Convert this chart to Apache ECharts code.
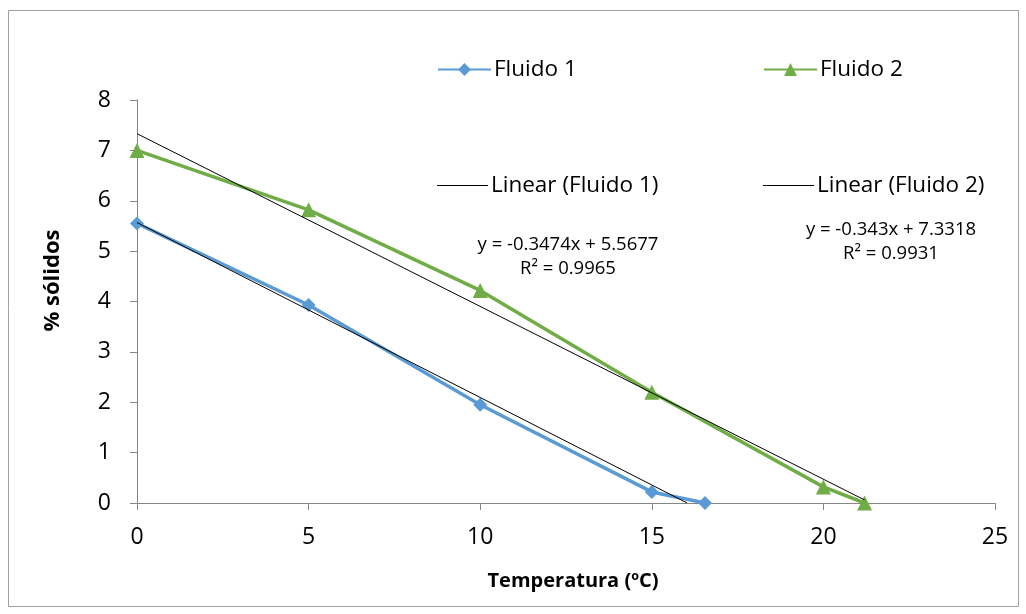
<!DOCTYPE html>
<html><head><meta charset="utf-8">
<script src="https://cdn.jsdelivr.net/npm/echarts@6/dist/echarts.min.js"></script>
<style>html,body{margin:0;padding:0;background:#fff}#c{width:1026px;height:614px}</style>
</head><body><div id="c"></div>
<script>
const fluido1 = [[0,5.55],[5,3.93],[10,1.95],[15,0.22],[16.55,0]];
const fluido2 = [[0,7.0],[5,5.82],[10,4.22],[15,2.2],[20,0.32],[21.2,0]];
const trend1 = [[0,5.5677],[16.03,0]];
const trend2 = [[0,7.3318],[21.2,0.0602]];
const eq1 = ['y = -0.3474x + 5.5677','R² = 0.9965'];
const eq2 = ['y = -0.343x + 7.3318','R² = 0.9931'];
const FONT = 'Open Sans';
const chart = echarts.init(document.getElementById('c'));
const txt = {fontFamily:FONT,fontSize:22.5,color:'#000',padding:[0,0,0,-2]};
const legendBase = {orient:'horizontal', itemWidth:53, itemHeight:16, itemGap:0, padding:0, textStyle:txt};
const lineLegend = {orient:'horizontal', itemWidth:51, itemHeight:1, itemGap:0, padding:0, icon:'rect', textStyle:txt};
chart.setOption({
  animation:false,
  grid:{left:137,right:31,top:100,bottom:111,containLabel:false},
  legend:[
    Object.assign({},legendBase,{data:['Fluido 1'],left:437,top:58}),
    Object.assign({},legendBase,{data:['Fluido 2'],left:763,top:58}),
    Object.assign({},lineLegend,{data:['Linear (Fluido 1)'],left:437,top:174}),
    Object.assign({},lineLegend,{data:['Linear (Fluido 2)'],left:763,top:174})
  ],
  xAxis:{type:'value',min:0,max:25,interval:5,
    name:'Temperatura (ºC)',nameLocation:'middle',nameGap:68,
    nameTextStyle:{fontFamily:FONT,fontSize:20,fontWeight:'bold',color:'#000',padding:[0,0,0,14]},
    axisLine:{lineStyle:{color:'#868686',width:1}},
    axisTick:{show:true,length:7,inside:false,lineStyle:{color:'#868686'}},
    axisLabel:{fontFamily:FONT,fontSize:23,color:'#000',margin:23},
    splitLine:{show:false}},
  yAxis:{type:'value',min:0,max:8,interval:1,
    name:'% sólidos',nameLocation:'middle',nameGap:73,nameRotate:90,
    nameTextStyle:{fontFamily:FONT,fontSize:22,fontWeight:'bold',color:'#000',padding:[0,0,0,42]},
    axisLine:{show:true,lineStyle:{color:'#868686',width:1}},
    axisTick:{show:true,length:7,inside:false,lineStyle:{color:'#868686'}},
    axisLabel:{fontFamily:FONT,fontSize:23,color:'#000',margin:26},
    splitLine:{show:false}},
  graphic:[
    {type:'rect',shape:{x:8.5,y:10.5,width:1010,height:596},style:{fill:'none',stroke:'#a0a0a0',lineWidth:1},silent:true},
    {type:'text',x:568,y:233,style:{text:eq1.join('\n'),fontFamily:FONT,fontSize:18.5,fill:'#000',align:'center',lineHeight:24}},
    {type:'text',x:891,y:218,style:{text:eq2.join('\n'),fontFamily:FONT,fontSize:18.5,fill:'#000',align:'center',lineHeight:24}}
  ],
  series:[
    {name:'Fluido 1',type:'line',data:fluido1,symbol:'diamond',symbolSize:14,
      lineStyle:{color:'#5B9BD5',width:3.5},itemStyle:{color:'#5B9BD5'},z:2},
    {name:'Fluido 2',type:'line',data:fluido2,symbol:'triangle',symbolSize:15,
      lineStyle:{color:'#70AD47',width:3.5},itemStyle:{color:'#70AD47'},z:2},
    {name:'Linear (Fluido 1)',type:'line',data:trend1,symbol:'none',
      lineStyle:{color:'#000',width:1},itemStyle:{color:'#000'},z:3},
    {name:'Linear (Fluido 2)',type:'line',data:trend2,symbol:'none',
      lineStyle:{color:'#000',width:1},itemStyle:{color:'#000'},z:3}
  ]
});
</script></body></html>
